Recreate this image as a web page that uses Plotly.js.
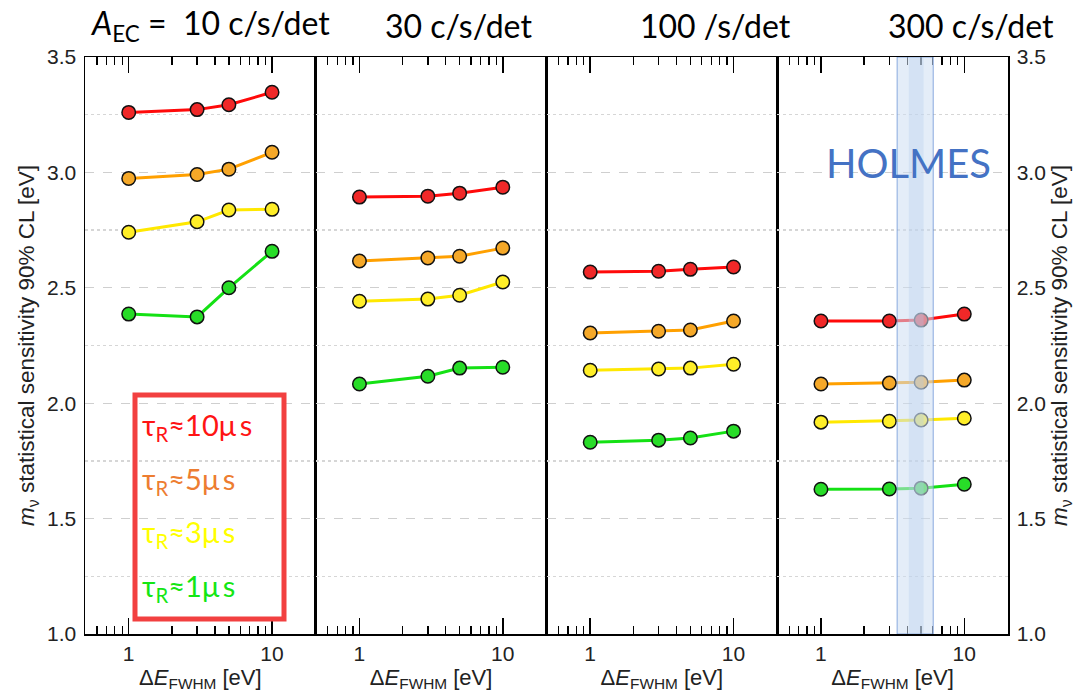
<!DOCTYPE html>
<html><head><meta charset="utf-8">
<script src="https://cdn.plot.ly/plotly-3.0.1.min.js"></script>
<style>html,body{margin:0;padding:0;background:#fff}#chart{width:1081px;height:694px}</style>
</head><body><div id="chart"></div>
<script>
// ΔE_FWHM values [eV]
const energyFWHM = [1, 3, 5, 10];
// Panel titles (activity A_EC)
const panelTitles = ['<i>A</i><sub>EC</sub> =  10 c/s/det', '30 c/s/det', '100 /s/det', '300 c/s/det'];
// Legend labels
const tauLabels = ['τ<sub>R</sub>≈10μ\u2009s', 'τ<sub>R</sub>≈5μ\u2009s', 'τ<sub>R</sub>≈3μ\u2009s', 'τ<sub>R</sub>≈1μ\u2009s'];
// sensitivity per panel (10, 30, 100, 300 c/s/det) for each rise time
const tau10us = [[3.26, 3.272, 3.293, 3.347], [2.893, 2.897, 2.91, 2.936], [2.568, 2.572, 2.58, 2.59], [2.356, 2.356, 2.36, 2.386]];
const tau5us  = [[2.974, 2.991, 3.014, 3.087], [2.616, 2.629, 2.637, 2.672], [2.304, 2.312, 2.317, 2.356], [2.083, 2.087, 2.091, 2.10]];
const tau3us  = [[2.741, 2.786, 2.837, 2.84], [2.442, 2.451, 2.468, 2.525], [2.143, 2.148, 2.152, 2.169], [1.918, 1.922, 1.927, 1.935]];
const tau1us  = [[2.386, 2.374, 2.50, 2.658], [2.083, 2.117, 2.152, 2.156], [1.831, 1.84, 1.849, 1.879], [1.627, 1.628, 1.632, 1.649]];
// HOLMES ΔE window [eV]
const holmesRange = [3.4, 6.07];

const lineColors = ['rgb(255,10,10)', 'rgb(255,160,0)', 'rgb(255,232,0)', 'rgb(20,225,20)'];
const markerColors = ['rgb(240,40,40)', 'rgb(245,168,40)', 'rgb(255,238,40)', 'rgb(40,220,40)'];
const textColors = ['rgb(255,20,20)', 'rgb(237,125,49)', 'rgb(255,255,0)', 'rgb(20,230,20)'];
const allSeries = [tau10us, tau5us, tau3us, tau1us];

const traces = [];
for (let p = 0; p < 4; p++) {
  allSeries.forEach((s, k) => {
    traces.push({
      x: energyFWHM, y: s[p], type: 'scatter', mode: 'lines+markers',
      xaxis: p === 0 ? 'x' : 'x' + (p + 1),
      yaxis: p === 3 ? 'y2' : 'y',
      line: {color: lineColors[k], width: 3},
      marker: {size: 13.5, color: markerColors[k], line: {color: '#111', width: 1.5}},
      showlegend: false, hoverinfo: 'skip'
    });
  });
}

const font = 'Liberation Sans, Arial, sans-serif';
function xax(i) {
  return {
    domain: [i * 0.25, (i + 1) * 0.25], anchor: i === 3 ? 'y2' : 'y',
    type: 'log', range: [-0.305, 1.305],
    tickvals: [1, 10], ticktext: ['1', '10'],
    ticks: 'inside', ticklen: 16, tickwidth: 1.5, tickcolor: '#000',
    minor: {dtick: 'D1', ticks: 'inside', ticklen: 8, tickwidth: 1.3, tickcolor: '#000', showgrid: false},
    showline: true, linecolor: '#000', linewidth: 1.5, mirror: 'ticks',
    showgrid: false, zeroline: false,
    tickfont: {family: font, size: 21, color: '#222'},
    title: {text: 'Δ<i>E</i><sub>FWHM</sub> [eV]', font: {family: font, size: 22, color: '#222'}, standoff: 4}
  };
}
const yCommon = {
  range: [1, 3.5], tick0: 1, dtick: 0.5, tickformat: '.1f', ticks: '',
  showline: true, linecolor: '#000', linewidth: 1.5,
  showgrid: true, gridcolor: '#cfcfcf', griddash: 'dash', gridwidth: 1.3,
  minor: {dtick: 0.25, showgrid: true, gridcolor: '#d6d6d6', griddash: 'dot', gridwidth: 1.3, ticks: ''},
  zeroline: false, ticklabelstandoff: 3,
  tickfont: {family: font, size: 21, color: '#222'},
  title: {text: '<i>m</i><sub>ν</sub> statistical sensitivity 90% CL [eV]', font: {family: font, size: 22.5, color: '#222'}, standoff: 6}
};

const px = v => (v - 85) / 923;
const py = v => (634 - v) / 577;

const annotations = [];
const titleX = [210, 458, 715, 971];
panelTitles.forEach((t, i) => annotations.push({
  text: t, xref: 'paper', yref: 'paper', x: px(titleX[i]), y: py(25), xanchor: 'center', yanchor: 'middle',
  showarrow: false, font: {family: 'Lato, Open Sans, sans-serif', size: 32, color: '#000'}
}));
const legY = [427, 480, 533, 587];
tauLabels.forEach((t, i) => annotations.push({
  text: t, xref: 'paper', yref: 'paper', x: px(140), y: py(legY[i]), xanchor: 'left', yanchor: 'middle',
  showarrow: false, font: {family: 'Lato, Open Sans, sans-serif', size: 29, color: textColors[i]}
}));
annotations.push({
  text: 'HOLMES', xref: 'paper', yref: 'paper', x: px(908), y: py(163), xanchor: 'center', yanchor: 'middle',
  showarrow: false, font: {family: 'Lato, Open Sans, sans-serif', size: 40, color: '#4472C4'}
});

const shapes = [
  {type: 'rect', xref: 'paper', yref: 'paper', x0: px(135), x1: px(284), y0: py(619), y1: py(395),
   line: {color: 'rgb(242,64,64)', width: 5}, fillcolor: 'rgba(0,0,0,0)'},
  {type: 'rect', xref: 'x4', yref: 'y2', x0: holmesRange[0], x1: holmesRange[1], y0: 1, y1: 3.5, layer: 'above',
   line: {color: 'rgba(110,150,215,0.8)', width: 1}, fillcolor: 'rgba(205,222,242,0.55)'},
  {type: 'rect', xref: 'x4', yref: 'y2', x0: 4.1, x1: 5.2, y0: 1, y1: 3.5, layer: 'above',
   line: {width: 0}, fillcolor: 'rgba(175,202,235,0.3)'}
];

const layout = {
  width: 1081, height: 694,
  margin: {l: 85, r: 73, t: 57, b: 60},
  paper_bgcolor: '#fff', plot_bgcolor: '#fff',
  xaxis: xax(0), xaxis2: xax(1), xaxis3: xax(2), xaxis4: xax(3),
  yaxis: Object.assign({}, yCommon, {anchor: 'x', side: 'left', mirror: 'all'}),
  yaxis2: Object.assign({}, yCommon, {anchor: 'x4', side: 'right', mirror: true, matches: 'y'}),
  annotations: annotations, shapes: shapes, showlegend: false
};
Plotly.newPlot('chart', traces, layout, {displayModeBar: false, staticPlot: true});
</script></body></html>
